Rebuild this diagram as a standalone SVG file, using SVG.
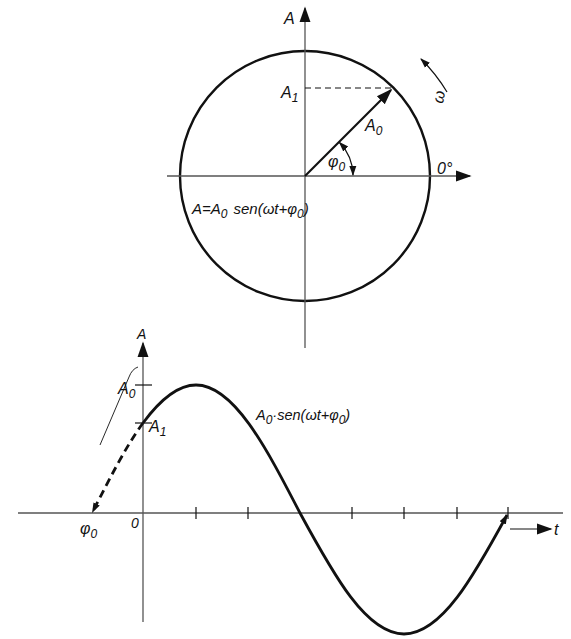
<svg xmlns="http://www.w3.org/2000/svg" width="571" height="639" viewBox="0 0 571 639">
<style>
.axis{stroke:#555;stroke-width:1.3;fill:none}
.thick{stroke:#111;stroke-width:2.8;fill:none}
.thin{stroke:#111;stroke-width:1.2;fill:none}
.lbl{font-family:"Liberation Sans",Arial,sans-serif;font-style:italic;fill:#111;font-size:15px}
.sub{font-size:12px}
</style>
<defs>
<marker id="ah" viewBox="0 0 10 10" refX="9" refY="5" markerWidth="10" markerHeight="10" markerUnits="userSpaceOnUse" orient="auto-start-reverse">
<path d="M0,1.5 L10,5 L0,8.5 Z" fill="#111"/>
</marker>
<marker id="ahBig" viewBox="0 0 10 10" refX="9" refY="5" markerWidth="16" markerHeight="16" markerUnits="userSpaceOnUse" orient="auto-start-reverse">
<path d="M0,1.5 L10,5 L0,8.5 Z" fill="#111"/>
</marker>
</defs>
<rect width="571" height="639" fill="#fff"/>

<g id="circle-diagram">
<circle cx="305" cy="176" r="125" class="thick" style="stroke-width:2.4"/>
</g>
<g id="connectors">
<line x1="167" y1="176" x2="470" y2="176" class="axis" marker-end="url(#ahBig)"/>
<line x1="305" y1="348" x2="305" y2="8" class="axis" marker-end="url(#ahBig)"/>
<line x1="305" y1="88" x2="392" y2="88" stroke="#111" stroke-width="1.2" stroke-dasharray="6,4"/>
<line x1="305" y1="176" x2="391" y2="90" class="thick" style="stroke-width:2.2" marker-end="url(#ahBig)"/>
<path d="M339.5,142.5 A48,48 0 0 1 353,175" class="thin" marker-start="url(#ah)" marker-end="url(#ah)"/>
<path d="M447,92 A165,165 0 0 0 421,59" class="thin" marker-end="url(#ah)"/>

<line x1="18" y1="513" x2="563" y2="513" class="axis"/>
<line x1="143" y1="622" x2="143" y2="343" class="axis" marker-end="url(#ahBig)"/>
<line x1="510" y1="529" x2="551" y2="529" class="thin" marker-end="url(#ahBig)"/>
<g class="thin">
<line x1="135" y1="385" x2="152" y2="385"/>
<line x1="135" y1="423" x2="152" y2="423"/>
<line x1="196" y1="507" x2="196" y2="519"/>
<line x1="248" y1="507" x2="248" y2="519"/>
<line x1="352" y1="507" x2="352" y2="519"/>
<line x1="404" y1="507" x2="404" y2="519"/>
<line x1="457" y1="507" x2="457" y2="519"/>
<line x1="508" y1="507" x2="508" y2="519"/>
</g>
<path d="M143,423 C126,446 109,480 92.5,512" class="thick" stroke-dasharray="8,5" marker-end="url(#ah)"/>
<path d="M143,423 C160.7,399 178.3,385 196,385 C233.6,385 266.1,447.4 300,513 C333.9,575.5 366.4,634 404,634 C441.6,634 474.1,575.5 507,515" class="thick" marker-end="url(#ah)"/>
<path d="M100,445 L129,377 Q132,369 138,367" class="thin" style="stroke-width:0.9"/>
</g>

<g id="labels">
<text x="284" y="24" class="lbl" style="font-size:16px">A</text>
<text x="281" y="98" class="lbl" style="font-size:16px">A<tspan class="sub" dy="4">1</tspan></text>
<text x="365" y="131" class="lbl" style="font-size:16px">A<tspan class="sub" dy="4">0</tspan></text>
<text x="328" y="167" class="lbl" style="font-size:16px">φ<tspan class="sub" dy="4">0</tspan></text>
<text x="437" y="174" class="lbl" style="font-size:16px">0°</text>
<text x="0" y="0" class="lbl" style="font-size:16px" transform="translate(443,104) rotate(-80)">ω</text>
<text x="192" y="214" class="lbl">A=A<tspan class="sub" dy="4">0</tspan><tspan dy="-4" dx="6">sen(ωt+φ</tspan><tspan class="sub" dy="4">0</tspan><tspan dy="-4">)</tspan></text>

<text x="137" y="339" class="lbl" style="font-size:14px">A</text>
<text x="118" y="394" class="lbl" style="font-size:16px">A<tspan class="sub" dy="4">0</tspan></text>
<text x="149" y="432" class="lbl" style="font-size:16px">A<tspan class="sub" dy="4">1</tspan></text>
<text x="256" y="420" class="lbl" style="font-size:14.5px">A<tspan class="sub" dy="4">0</tspan><tspan dy="-4">·sen(ωt+φ</tspan><tspan class="sub" dy="4">0</tspan><tspan dy="-4">)</tspan></text>
<text x="80" y="534" class="lbl" style="font-size:16px">φ<tspan class="sub" dy="4">0</tspan></text>
<text x="131" y="528" class="lbl" style="font-size:14px">0</text>
<text x="554" y="535" class="lbl" style="font-size:16px">t</text>
</g>
</svg>
